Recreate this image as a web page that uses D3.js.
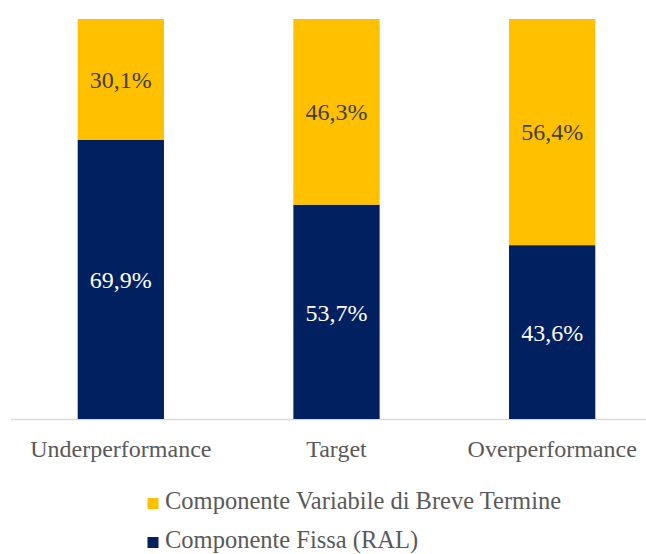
<!DOCTYPE html>
<meta charset="utf-8">
<script src="https://d3js.org/d3.v7.min.js"></script>
<style>
  body { margin: 0; background: #fff; }
</style>
<div id="chart"></div>
<script>
// data
var categories = ["Underperformance", "Target", "Overperformance"];
var fissa = [69.9, 53.7, 43.6];
var variabile = [30.1, 46.3, 56.4];
var seriesNames = ["Componente Variabile di Breve Termine", "Componente Fissa (RAL)"];
var seriesColors = ["#FFC000", "#002060"];

var width = 646, height = 554;
var font = "'Liberation Serif'";

var svg = d3.select("#chart").append("svg")
    .attr("width", width)
    .attr("height", height);

var x = d3.scaleBand()
    .domain(categories)
    .range([13, 660])
    .paddingInner(0.6)
    .paddingOuter(0.3);

var y = d3.scaleLinear()
    .domain([0, 100])
    .range([420, 19]);

// axis line
svg.append("line")
    .attr("x1", 11).attr("x2", width)
    .attr("y1", y(0) - 0.5).attr("y2", y(0) - 0.5)
    .attr("stroke", "#D9D9D9")
    .attr("stroke-width", 1.5);

// bottom: fissa
svg.selectAll(".fissa")
    .data(categories)
  .enter().append("rect")
    .attr("x", function(d) { return x(d); })
    .attr("width", x.bandwidth())
    .attr("y", function(d, i) { return y(fissa[i]); })
    .attr("height", function(d, i) { return y(0) - y(fissa[i]) - 1; })
    .attr("fill", seriesColors[1]);

// top: variabile
svg.selectAll(".var")
    .data(categories)
  .enter().append("rect")
    .attr("x", function(d) { return x(d); })
    .attr("width", x.bandwidth())
    .attr("y", function(d, i) { return y(fissa[i] + variabile[i]); })
    .attr("height", function(d, i) { return y(fissa[i]) - y(fissa[i] + variabile[i]); })
    .attr("fill", seriesColors[0]);

function fmt(v) { return v.toFixed(1).replace(".", ",") + "%"; }

// labels
svg.selectAll(".lblF")
    .data(categories)
  .enter().append("text")
    .attr("x", function(d) { return x(d) + x.bandwidth() / 2; })
    .attr("y", function(d, i) { return (y(0) + y(fissa[i])) / 2; })
    .attr("dy", "0.35em")
    .attr("text-anchor", "middle")
    .style("font-family", font)
    .style("font-size", "24px")
    .attr("fill", "#FFFFFF")
    .text(function(d, i) { return fmt(fissa[i]); });

svg.selectAll(".lblV")
    .data(categories)
  .enter().append("text")
    .attr("x", function(d) { return x(d) + x.bandwidth() / 2; })
    .attr("y", function(d, i) { return (y(fissa[i]) + y(fissa[i] + variabile[i])) / 2; })
    .attr("dy", "0.35em")
    .attr("text-anchor", "middle")
    .style("font-family", font)
    .style("font-size", "24px")
    .attr("fill", "#404040")
    .text(function(d, i) { return fmt(variabile[i]); });

// category labels
svg.selectAll(".cat")
    .data(categories)
  .enter().append("text")
    .attr("x", function(d) { return x(d) + x.bandwidth() / 2; })
    .attr("y", 457)
    .attr("text-anchor", "middle")
    .style("font-family", font)
    .style("font-size", "24px")
    .attr("fill", "#595959")
    .text(function(d) { return d; });

// legend
var legend = svg.selectAll(".leg")
    .data(seriesNames)
  .enter().append("g")
    .attr("transform", function(d, i) { return "translate(147.5," + (509 + i * 39) + ")"; });

legend.append("rect")
    .attr("x", 0).attr("y", -11)
    .attr("width", 11).attr("height", 11)
    .attr("fill", function(d, i) { return seriesColors[i]; });

legend.append("text")
    .attr("x", 17.5)
    .style("font-family", font)
    .style("font-size", "24.5px")
    .attr("fill", "#595959")
    .text(function(d) { return d; });
</script>
